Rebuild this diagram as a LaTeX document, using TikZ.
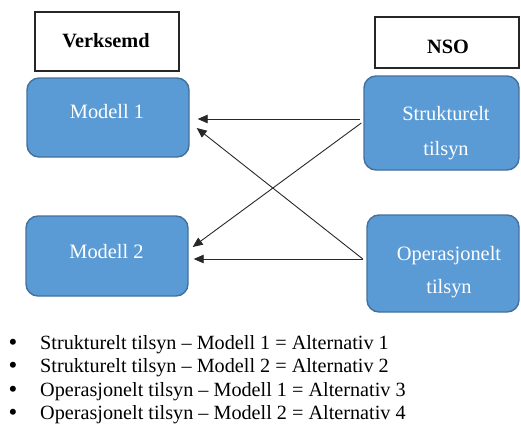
\documentclass[tikz,border=0pt]{standalone}
\usepackage{fontspec}
\setmainfont{Liberation Serif}
\usetikzlibrary{arrows.meta}
\definecolor{boxblue}{RGB}{91,155,213}
\definecolor{boxedge}{RGB}{65,113,156}
\definecolor{linegray}{RGB}{40,40,40}
\tikzset{
  headbox/.style={draw=black!85, line width=1.1pt, fill=white, inner sep=0pt},
  bluebox/.style={draw=boxedge, line width=1.4pt, fill=boxblue, rounded corners=12pt, inner sep=0pt},
  headtext/.style={anchor=base, inner sep=0pt, font=\fontsize{20.3}{24}\selectfont\bfseries},
  boxtext/.style={anchor=base, inner sep=0pt, text=white, font=\fontsize{20.4}{24}\selectfont},
  itemtext/.style={anchor=base west, inner sep=0pt, font=\fontsize{20.2}{24}\selectfont},
  bullettext/.style={anchor=base, inner sep=0pt, font=\fontsize{25}{24}\selectfont},
  conn/.style={draw=linegray, line width=0.9pt, -{Triangle[length=10pt,width=8.5pt]}}
}
\begin{document}
\begin{tikzpicture}[x=1pt, y=-1pt]
  \useasboundingbox (0,0) rectangle (521,428);

  % column headings
  \node[headbox, minimum width=144pt, minimum height=59pt] (verk) at (107,41.5) {};
  \node[headbox, minimum width=144pt, minimum height=51pt] (nso) at (447,42.5) {};
  \node[headtext] (verkt) at (106,48) {Verksemd};
  \node[headtext] (nsot) at (448,53) {NSO};

  % model boxes
  \node[bluebox, minimum width=162pt, minimum height=79pt] (m1) at (108,117.5) {};
  \node[bluebox, minimum width=162pt, minimum height=80pt] (m2) at (107,256) {};
  \node[boxtext] (m1t) at (107,118) {Modell 1};
  \node[boxtext] (m2t) at (106.5,258) {Modell 2};

  % supervision boxes
  \node[bluebox, minimum width=155pt, minimum height=94pt] (sk) at (441.5,123) {};
  \node[bluebox, minimum width=152pt, minimum height=97pt] (op) at (443,263.5) {};
  \node[boxtext] (skt1) at (446,120) {Strukturelt};
  \node[boxtext] (skt2) at (446,155) {tilsyn};
  \node[boxtext] (opt1) at (449,260) {Operasjonelt};
  \node[boxtext] (opt2) at (449,293) {tilsyn};

  % connections
  \draw[conn] ([shift={(-3pt,4pt)}]sk.west) -- ([shift={(8pt,-1.5pt)}]m1.east);
  \draw[conn] ([shift={(-2pt,0pt)}]sk.west) -- ([shift={(4pt,9pt)}]m2.east);
  \draw[conn] ([shift={(-3.5pt,4.5pt)}]op.west) -- ([shift={(7pt,-10.5pt)}]m1.east);
  \draw[conn] ([shift={(-3.5pt,4.5pt)}]op.west) -- ([shift={(5pt,-3pt)}]m2.east);

  % legend
  \foreach \y/\txt [count=\i] in {
      349/{Strukturelt tilsyn – Modell 1 = Alternativ 1},
      372.5/{Strukturelt tilsyn – Modell 2 = Alternativ 2},
      396/{Operasjonelt tilsyn – Modell 1 = Alternativ 3},
      419.5/{Operasjonelt tilsyn – Modell 2 = Alternativ 4}} {
    \node[bullettext] (bul\i) at (13,\y+1) {\textbullet};
    \node[itemtext] (item\i) at (40,\y) {\txt};
  }
\end{tikzpicture}
\end{document}
